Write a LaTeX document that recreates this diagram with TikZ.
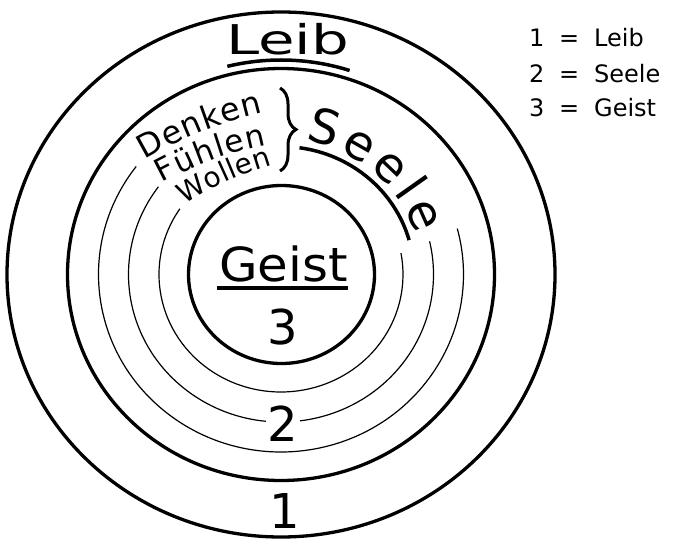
\documentclass[tikz,border=0pt]{standalone}
\usepackage{fontspec}
\setmainfont{DejaVu Sans}
\usetikzlibrary{decorations.text,decorations.pathreplacing}
\newcommand\fsz[1]{\fontsize{#1}{#1}\selectfont}
\begin{document}
\begin{tikzpicture}[x=1pt,y=1pt,
  thickring/.style={line width=3.3pt},
  thinring/.style={line width=1.2pt},
  uline/.style={line width=3.5pt},
  lbl/.style={inner sep=0pt, text=black},
  legend/.style={anchor=base west, inner sep=0pt, font=\fsz{24}}]
\useasboundingbox (0,0) rectangle (674,539);
\coordinate (C) at (281,264.5);
% rings
\draw[thickring] (C) ellipse [x radius=274, y radius=262.5];
\draw[thickring] (C) ellipse [x radius=213.5, y radius=206];
\draw[thickring] (281.5,264.5) ellipse [x radius=93, y radius=89];
\draw[thinring] (C) ++(142.5:182.5 and 177.5) arc[start angle=142.5, end angle=375, x radius=182.5, y radius=177.5];
\draw[thinring] (C) ++(143.5:152.5 and 147.5) arc[start angle=143.5, end angle=373, x radius=152.5, y radius=147.5];
\draw[thinring] (C) ++(146:122 and 117.5) arc[start angle=146, end angle=370.5, x radius=122, y radius=117.5];
% numbers
\node[lbl, fill=white, inner sep=1.5pt, font=\fsz{48}] (two) at (283,115) {2};
\node[lbl, font=\fsz{48}] (three) at (283,211.5) {3};
\node[lbl, font=\fsz{48}] (one) at (285,28) {1};
% Geist
\node[lbl, font=\fsz{47}, anchor=base, xscale=1.06] (geist) at (283.5,258) {Geist};
\draw[uline] (217,251) -- (348,251);
% Leib
\node[lbl, font=\fsz{41}, anchor=base, xscale=1.45] (leib) at (287.5,484) {Leib};
\draw[uline] (C) ++(104:222 and 214.5) arc[start angle=104, end angle=72, x radius=222, y radius=214.5];
% Seele
\path[decorate, decoration={text along path, text={|\fsz{48}|Seele}, text align=fit to path}]
  (305.5,398.4) arc[start angle=80, end angle=17, x radius=141, y radius=136];
\draw[uline] (C) ++(82:133 and 128) arc[start angle=82, end angle=15.6, x radius=133, y radius=128];
% Denken Fuehlen Wollen
\path[decorate, decoration={text along path, text={|\fsz{32}|Denken}, text align=fit to path}]
  (145,379) to[bend left=8] (263,426);
\path[decorate, decoration={text along path, text={|\fsz{31}|Fühlen}, text align=fit to path}]
  (162,356) to[bend left=8] (267,394);
\path[decorate, decoration={text along path, text={|\fsz{28}|Wollen}, text align=fit to path}]
  (185,334) to[bend left=8] (272,374);
\draw[line width=3pt, decorate, decoration={brace, amplitude=16pt}] (280,451) -- (280,368);
% legend
\node[legend] (leg1) at (529,492) {\makebox[30pt][l]{1}\makebox[35pt][l]{=}Leib};
\node[legend] (leg2) at (529,456) {\makebox[30pt][l]{2}\makebox[35pt][l]{=}Seele};
\node[legend] (leg3) at (529,422) {\makebox[30pt][l]{3}\makebox[35pt][l]{=}Geist};
\end{tikzpicture}
\end{document}
